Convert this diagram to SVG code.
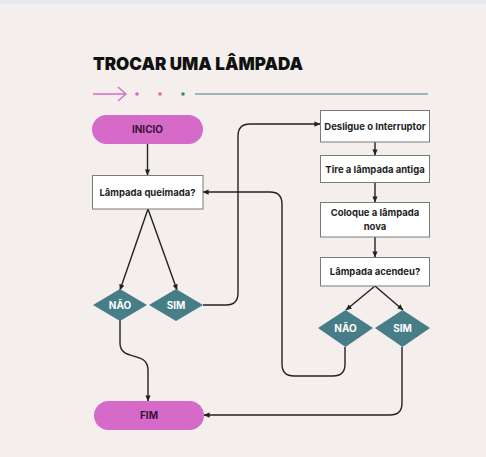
<svg xmlns="http://www.w3.org/2000/svg" width="486" height="457" viewBox="0 0 486 457">
<style>
.box{fill:#ffffff;stroke:#7a7a7a;stroke-width:1}
.pill{fill:#d56ac8}
.dia{fill:#467d86}
.t{font-family:Inter,"Liberation Sans",sans-serif;font-weight:bold;font-size:9.5px;fill:#1e1e1e;text-anchor:middle}
.tp{font-family:Inter,"Liberation Sans",sans-serif;font-weight:bold;font-size:10px;fill:#3a1238;text-anchor:middle}
.tw{font-family:Inter,"Liberation Sans",sans-serif;font-weight:bold;font-size:10px;fill:#ffffff;text-anchor:middle}
.c{fill:none;stroke:#222222;stroke-width:1.4}
</style>
<defs>
<marker id="ah" viewBox="0 0 8 8" refX="7.5" refY="4" markerWidth="6" markerHeight="6" markerUnits="userSpaceOnUse" orient="auto">
<path d="M0,0.5 L8,4 L0,7.5 Z" fill="#222222"/>
</marker>
</defs>
<rect x="0" y="0" width="486" height="457" fill="#f4efec"/>
<rect x="0" y="0" width="486" height="4" fill="#e9e8ee"/>
<g id="title">
<text x="93" y="70" font-family="Inter,'Liberation Sans',sans-serif" font-weight="900" font-size="18" fill="#111111" textLength="210" lengthAdjust="spacingAndGlyphs">TROCAR UMA LÂMPADA</text>
<path d="M93,94 H126 M118,87 L126,94 L118,101" fill="none" stroke="#d56ac8" stroke-width="1.3"/>
<circle cx="137" cy="94" r="1.8" fill="#d56ac8"/>
<circle cx="160" cy="94" r="1.8" fill="#d56ac8"/>
<circle cx="183" cy="94" r="1.8" fill="#467d86"/>
<line x1="195" y1="94" x2="428" y2="94" stroke="#467d86" stroke-width="1.2"/>
</g>
<g id="connectors">
<path class="c" d="M147.5,144 V175" marker-end="url(#ah)"/>
<path class="c" d="M148,209 L120,290" marker-end="url(#ah)"/>
<path class="c" d="M148,209 L177,290" marker-end="url(#ah)"/>
<path class="c" d="M203,305 H226 Q238,305 238,293 V136 Q238,124 250,124 H320" marker-end="url(#ah)"/>
<path class="c" d="M375,142 V155" marker-end="url(#ah)"/>
<path class="c" d="M375,182 V202" marker-end="url(#ah)"/>
<path class="c" d="M375,237 V257" marker-end="url(#ah)"/>
<path class="c" d="M375,286 L346,310" marker-end="url(#ah)"/>
<path class="c" d="M375,286 L403,310" marker-end="url(#ah)"/>
<path class="c" d="M345,347 V364 Q345,376 333,376 H294 Q282,376 282,364 V204 Q282,192 270,192 H203" marker-end="url(#ah)"/>
<path class="c" d="M402,347 V403 Q402,415 390,415 H204" marker-end="url(#ah)"/>
<path class="c" d="M120,320 V343 C120,362 148,350 148,370 V401" marker-end="url(#ah)"/>
</g>
<g id="inicio">
<rect class="pill" x="92" y="115" width="111" height="29" rx="14.5"/>
<text class="tp" x="147.5" y="133">INICIO</text>
</g>
<g id="queimada">
<rect class="box" x="92.5" y="175.5" width="110.5" height="33.5"/>
<text class="t" x="147.5" y="195.5">Lâmpada queimada?</text>
</g>
<g id="nao1">
<polygon class="dia" points="93,305 120,289 147,305 120,321"/>
<text class="tw" x="120" y="308.5">NÃO</text>
</g>
<g id="sim1">
<polygon class="dia" points="149,305 176,289 203,305 176,321"/>
<text class="tw" x="176" y="308.5">SIM</text>
</g>
<g id="desligue">
<rect class="box" x="320.5" y="110.5" width="109" height="31.5"/>
<text class="t" x="375" y="129.5">Desligue o Interruptor</text>
</g>
<g id="tire">
<rect class="box" x="320.5" y="155.5" width="109" height="27"/>
<text class="t" x="375" y="172.5">Tire a lâmpada antiga</text>
</g>
<g id="coloque">
<rect class="box" x="320.5" y="202.5" width="109" height="34.5"/>
<text class="t" x="375" y="216">Coloque a lâmpada</text>
<text class="t" x="375" y="229.5">nova</text>
</g>
<g id="acendeu">
<rect class="box" x="320.5" y="257.5" width="109" height="28.5"/>
<text class="t" x="375" y="274.5">Lâmpada acendeu?</text>
</g>
<g id="nao2">
<polygon class="dia" points="318,328 345.5,310 373,328 345.5,347"/>
<text class="tw" x="345.5" y="331.5">NÃO</text>
</g>
<g id="sim2">
<polygon class="dia" points="375,328 402.5,310 430,328 402.5,347"/>
<text class="tw" x="402.5" y="331.5">SIM</text>
</g>
<g id="fim">
<rect class="pill" x="94" y="401" width="110" height="29" rx="14.5"/>
<text class="tp" x="149" y="419">FIM</text>
</g>
</svg>
